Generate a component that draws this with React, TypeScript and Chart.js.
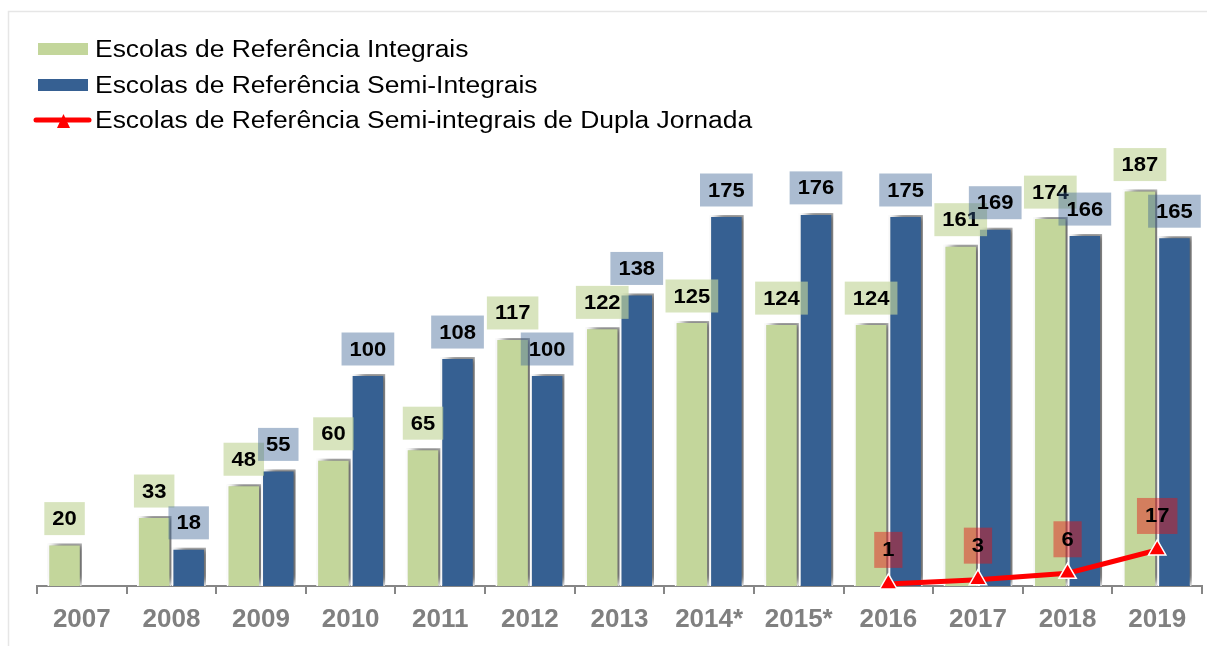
import React, { useEffect, useRef } from 'react';
import { Chart, registerables } from 'chart.js';

Chart.register(...registerables);

const categories = ['2007', '2008', '2009', '2010', '2011', '2012', '2013', '2014*', '2015*', '2016', '2017', '2018', '2019'];
const integrais = [20, 33, 48, 60, 65, 117, 122, 125, 124, 124, 161, 174, 187];
const semiIntegrais = [null, 18, 55, 100, 108, 100, 138, 175, 176, 175, 169, 166, 165];
const duplaJornada = [null, null, null, null, null, null, null, null, null, 1, 3, 6, 17];

const seriesNames = [
  'Escolas de Referência Integrais',
  'Escolas de Referência Semi-Integrais',
  'Escolas de Referência Semi-integrais de Dupla Jornada',
];

const FONT = '"Liberation Sans", Arial, sans-serif';
const GREEN = '#c3d69b';
const BLUE = '#366092';
const RED = '#ff0000';

const framePlugin = {
  id: 'frame',
  beforeDraw(chart: any) {
    const ctx = chart.ctx;
    ctx.save();
    ctx.strokeStyle = '#e6e6e6';
    ctx.lineWidth = 1.5;
    ctx.beginPath();
    ctx.moveTo(8.5, 646);
    ctx.lineTo(8.5, 11.5);
    ctx.lineTo(1207, 11.5);
    ctx.stroke();
    ctx.restore();
  },
};

const shadowPlugin = {
  id: 'barShadow',
  beforeDatasetDraw(chart: any, args: any) {
    if (args.meta.type !== 'bar') return;
    const ctx = chart.ctx;
    ctx.save();
    ctx.shadowColor = 'rgba(0,0,0,0.6)';
    ctx.shadowBlur = 8;
    ctx.shadowOffsetX = 6;
    ctx.shadowOffsetY = -3;
  },
  afterDatasetDraw(chart: any, args: any) {
    if (args.meta.type !== 'bar') return;
    chart.ctx.restore();
  },
};

function drawLabel(ctx: CanvasRenderingContext2D, text: string, cx: number, cy: number, bg: string, h: number) {
  const sx = 1.1;
  ctx.font = `bold 20px ${FONT}`;
  const tw = ctx.measureText(text).width * sx;
  const w = tw + 16;
  ctx.fillStyle = bg;
  ctx.fillRect(cx - w / 2, cy - h / 2, w, h);
  ctx.fillStyle = '#000000';
  ctx.textAlign = 'center';
  ctx.textBaseline = 'middle';
  ctx.save();
  ctx.translate(cx, cy + 1);
  ctx.scale(sx, 1);
  ctx.fillText(text, 0, 0);
  ctx.restore();
}

const labelPlugin = {
  id: 'valueLabels',
  afterDatasetsDraw(chart: any) {
    const ctx = chart.ctx;
    ctx.save();
    const specs = [
      { idx: 1, bg: 'rgba(195,214,155,0.65)', off: 25, h: 33 },
      { idx: 2, bg: 'rgba(54,96,146,0.42)', off: 25, h: 33 },
      { idx: 0, bg: 'rgba(230,20,20,0.45)', off: 34, h: 36 },
    ];
    for (const s of specs) {
      const meta = chart.getDatasetMeta(s.idx);
      const data = chart.data.datasets[s.idx].data;
      meta.data.forEach((el: any, i: number) => {
        const v = data[i];
        if (v === null || v === undefined) return;
        drawLabel(ctx, String(v), el.x, el.y - s.off, s.bg, s.h);
      });
    }
    ctx.restore();
  },
};

const legendPlugin = {
  id: 'customLegend',
  afterDraw(chart: any) {
    const ctx = chart.ctx;
    ctx.save();
    const rows = [49, 85, 120];
    ctx.fillStyle = GREEN;
    ctx.fillRect(38, rows[0] - 6, 50, 12);
    ctx.fillStyle = BLUE;
    ctx.fillRect(38, rows[1] - 6, 50, 12);
    ctx.strokeStyle = RED;
    ctx.lineWidth = 5;
    ctx.lineCap = 'round';
    ctx.beginPath();
    ctx.moveTo(36, rows[2]);
    ctx.lineTo(89, rows[2]);
    ctx.stroke();
    ctx.fillStyle = RED;
    ctx.beginPath();
    ctx.moveTo(63.5, rows[2] - 6);
    ctx.lineTo(70, rows[2] + 8);
    ctx.lineTo(57, rows[2] + 8);
    ctx.closePath();
    ctx.fill();
    ctx.fillStyle = '#000000';
    ctx.font = `23px ${FONT}`;
    ctx.textAlign = 'left';
    ctx.textBaseline = 'alphabetic';
    const baselines = [56.5, 92.7, 128.2];
    seriesNames.forEach((name, i) => {
      ctx.save();
      ctx.translate(95, baselines[i]);
      ctx.scale(1.15, 1);
      ctx.fillText(name, 0, 0);
      ctx.restore();
    });
    ctx.restore();
  },
};

export default function App() {
  const ref = useRef<HTMLCanvasElement | null>(null);

  useEffect(() => {
    if (!ref.current) return;
    const chart = new Chart(ref.current, {
      type: 'bar',
      data: {
        labels: categories,
        datasets: [
          {
            type: 'line',
            label: seriesNames[2],
            data: duplaJornada,
            borderColor: RED,
            backgroundColor: RED,
            borderWidth: 5,
            pointStyle: 'triangle',
            pointRadius: 10,
            pointBackgroundColor: RED,
            pointBorderColor: '#ffffff',
            pointBorderWidth: 1.5,
            clip: false,
            order: 0,
          } as any,
          {
            type: 'bar',
            label: seriesNames[0],
            data: integrais,
            backgroundColor: GREEN,
            borderColor: '#ffffff',
            borderWidth: { top: 2, left: 2, right: 2, bottom: 0 },
            borderSkipped: false,
            order: 1,
          } as any,
          {
            type: 'bar',
            label: seriesNames[1],
            data: semiIntegrais,
            backgroundColor: BLUE,
            borderColor: '#ffffff',
            borderWidth: { top: 2, left: 2, right: 2, bottom: 0 },
            borderSkipped: false,
            order: 2,
          } as any,
        ],
      },
      options: {
        responsive: false,
        animation: false,
        devicePixelRatio: 1,
        layout: { autoPadding: false, padding: { left: 37, right: 5, top: 162, bottom: 0 } },
        datasets: {
          bar: { categoryPercentage: 0.77, barPercentage: 1.0 },
        },
        plugins: {
          legend: { display: false },
          tooltip: { enabled: false },
        },
        scales: {
          x: {
            offset: true,
            grid: {
              offset: true,
              drawOnChartArea: false,
              drawTicks: true,
              tickLength: 8,
              color: '#868686',
              lineWidth: 2,
            },
            border: { display: true, color: '#868686', width: 2 },
            ticks: {
              color: '#808080',
              font: { family: FONT, size: 26, weight: 'bold' },
              padding: 10,
              maxRotation: 0,
              autoSkip: false,
            },
            afterFit(scale: any) {
              scale.height = 60;
            },
          },
          y: {
            display: false,
            min: 0,
            max: 200,
          },
        },
      } as any,
      plugins: [framePlugin, shadowPlugin, labelPlugin, legendPlugin],
    });
    return () => chart.destroy();
  }, []);

  return (
    <div style={{ position: 'fixed', left: 0, top: 0, width: 1207, height: 646, background: '#ffffff' }}>
      <canvas ref={ref} width={1207} height={646} style={{ display: 'block', width: 1207, height: 646 }} />
    </div>
  );
}
